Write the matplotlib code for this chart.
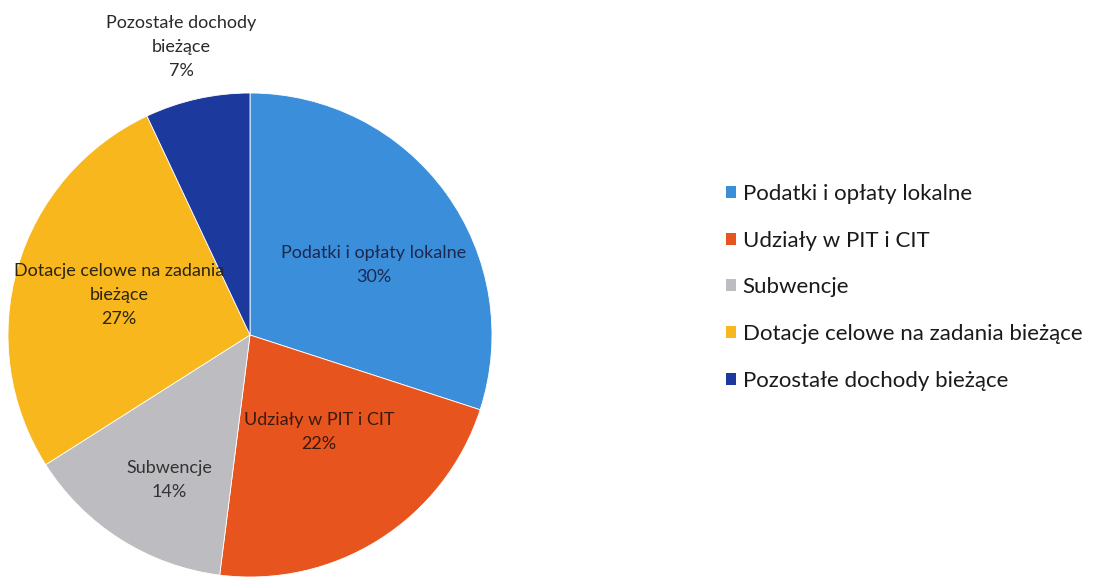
import matplotlib.pyplot as plt
from matplotlib.patches import Patch

plt.rcParams['font.family'] = ['Lato', 'DejaVu Sans']

# dane
kategorie = ["Podatki i opłaty lokalne", "Udziały w PIT i CIT", "Subwencje",
             "Dotacje celowe na zadania bieżące", "Pozostałe dochody bieżące"]
udzialy = [30, 22, 14, 27, 7]
etykiety = ["Podatki i opłaty lokalne\n30%", "Udziały w PIT i CIT\n22%", "Subwencje\n14%",
            "Dotacje celowe na zadania\nbieżące\n27%", "Pozostałe dochody\nbieżące\n7%"]
kolory = ["#3b8fda", "#e8541e", "#bdbdc1", "#f8b71c", "#1c3a9e"]
kolory_tekstu = ["#1c2850", "#3a1a0c", "#333333", "#2a2410", "#2a2a2a"]
# położenie etykiet (współrzędne osi wykresu kołowego)
poz_etykiet = [(0.51, 0.29), (0.285, -0.40), (-0.335, -0.60), (-0.54, 0.165), (-0.285, 1.19)]

fig = plt.figure(figsize=(10.93, 5.81), dpi=100)
ax = fig.add_axes([8 / 1093, 4 / 581, 484 / 1093, 484 / 581])
wedges, _ = ax.pie(udzialy, colors=kolory, startangle=90, counterclock=False,
                   wedgeprops=dict(edgecolor="white", linewidth=0.6))
ax.set_xlim(-1, 1)
ax.set_ylim(-1, 1)
ax.set_aspect("equal")
ax.axis("off")

for txt, (x, y), c in zip(etykiety, poz_etykiet, kolory_tekstu):
    ax.text(x, y, txt, ha="center", va="center", fontsize=13, color=c,
            linespacing=1.6, clip_on=False)

uchwyty = [Patch(facecolor=k, edgecolor="none") for k in kolory]
fig.legend(uchwyty, kategorie, loc="upper left", bbox_to_anchor=(706 / 1093, 1 - 164 / 581),
           frameon=False, fontsize=16, handlelength=0.45, handleheight=0.45,
           handletextpad=0.3, labelspacing=1.2, labelcolor="#1a1a1a")

plt.savefig("out.png", dpi=100)
